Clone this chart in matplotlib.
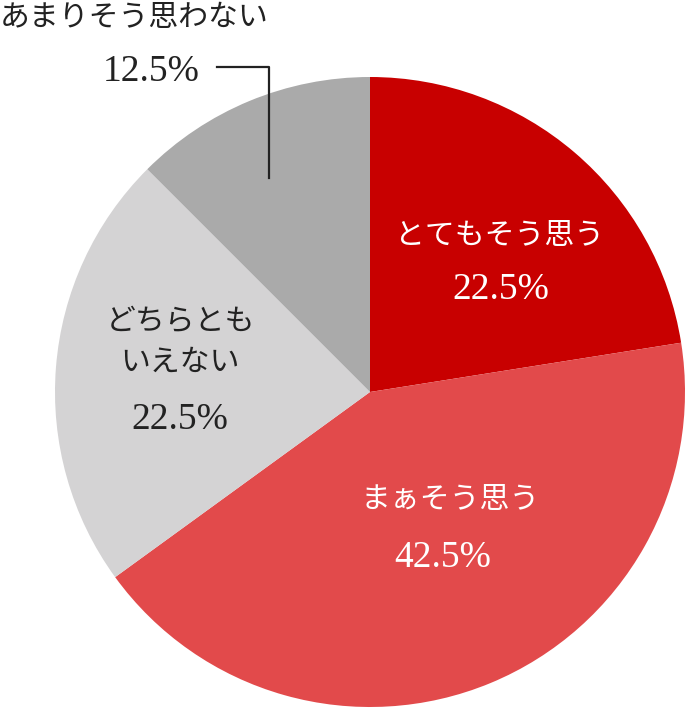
import matplotlib
matplotlib.use('Agg')
import matplotlib.pyplot as plt

# data
labels = ['とてもそう思う', 'まぁそう思う', 'どちらとも\nいえない', 'あまりそう思わない']
values = [22.5, 42.5, 22.5, 12.5]
pct_labels = ['22.5%', '42.5%', '22.5%', '12.5%']
colors = ['#c80000', '#e24a4b', '#d4d3d4', '#aaaaaa']

jp = ['Noto Sans CJK JP', 'DejaVu Sans']
num = ['Liberation Serif', 'Noto Sans CJK JP']
JP_SIZE, NUM_SIZE = 21.5, 27

W, H = 686, 710
fig = plt.figure(figsize=(W / 100, H / 100), dpi=100)
ax = fig.add_axes([0, 0, 1, 1])

cx, cy, r = 370, 392, 315
# y axis is inverted, so counterclock=True draws clockwise on screen
ax.pie(values, colors=colors, startangle=-90, counterclock=True,
       center=(cx, cy), radius=r, frame=True,
       wedgeprops=dict(linewidth=0))
ax.set_xlim(0, W)
ax.set_ylim(H, 0)
ax.set_aspect('equal')
ax.axis('off')

# label text
ax.text(500, 236, labels[0], color='white', fontsize=JP_SIZE, family=jp, ha='center', va='center')
ax.text(501, 290, pct_labels[0], color='white', fontsize=NUM_SIZE, family=num, ha='center', va='center')

ax.text(450, 500, labels[1], color='white', fontsize=JP_SIZE, family=jp, ha='center', va='center')
ax.text(443, 558, pct_labels[1], color='white', fontsize=NUM_SIZE, family=num, ha='center', va='center')

ax.text(180, 342, labels[2], color='#222222', fontsize=JP_SIZE, family=jp, ha='center', va='center',
        linespacing=1.4)
ax.text(180, 420, pct_labels[2], color='#222222', fontsize=NUM_SIZE, family=num, ha='center', va='center')

ax.text(0, 17, labels[3], color='#222222', fontsize=JP_SIZE, family=jp, ha='left', va='center')
ax.text(200, 72, pct_labels[3], color='#222222', fontsize=NUM_SIZE, family=num, ha='right', va='center')
ax.plot([217, 269, 269], [67, 67, 178], color='#222222', linewidth=1.6)

fig.savefig('out.png', dpi=100)
